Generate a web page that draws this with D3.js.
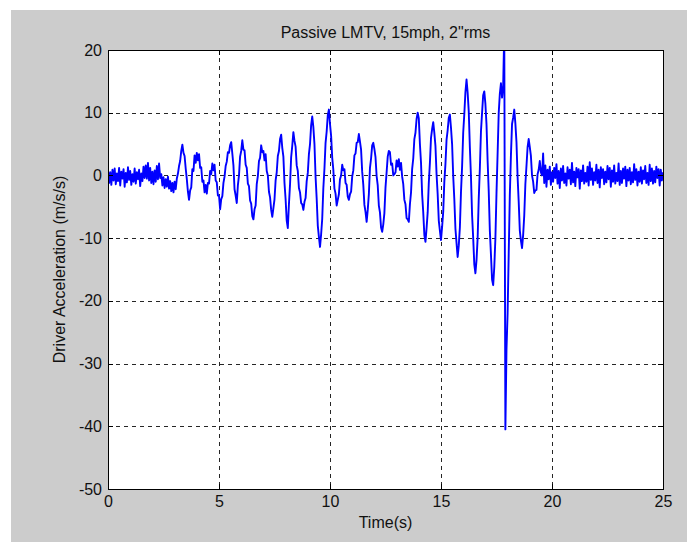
<!DOCTYPE html>
<html>
<head>
<meta charset="utf-8">
<script src="https://cdn.jsdelivr.net/npm/d3@7"></script>
<style>
  html, body { margin: 0; padding: 0; background: #ffffff; }
  svg { display: block; }
  text { font-family: "Liberation Sans", Arial, Helvetica, sans-serif; }
</style>
</head>
<body>
<div id="chart"></div>
<script>
// ---- data ----
const titleText = 'Passive LMTV, 15mph, 2"rms';
const xLabelText = "Time(s)";
const yLabelText = "Driver Acceleration (m/s/s)";
const xDomain = [0, 25];
const yDomain = [-50, 20];
const xTicks = [0, 5, 10, 15, 20, 25];
const yTicks = [-50, -40, -30, -20, -10, 0, 10, 20];
const sampleStep = 0.05; // seconds between samples, starting at t = 0
// one row per second (20 samples each), last value at t = 25 s
const accel = [
  0.8,-1.2,0.5,-1.5,0.9,-0.8,1.1,-1.4,0.3,-0.9,1.2,-1.6,0.6,-0.5,1.0,-1.8,0.4,-1.1,1.3,-0.7,
  0.7,-1.5,0.2,-1.0,1.1,-1.3,0.5,-0.6,0.9,-1.7,0.3,-0.9,1.4,-0.4,1.6,-0.5,2.0,-0.8,1.2,-1.2,
  0.6,-1.4,0.8,-1.0,1.5,-0.6,1.9,-0.4,0.2,-1.6,-0.3,-2.0,-0.6,-1.8,-0.2,-2.1,-0.9,-2.5,-1.2,-2.7,
  -1.0,-2.2,-0.5,0.3,1.5,2.3,3.9,4.9,3.6,3.1,1.1,-0.6,-2.6,-3.9,-2.4,-1.9,1.0,0.7,3.2,2.0,
  3.6,2.4,3.4,1.2,1.3,-1.0,-0.8,-2.7,-1.5,-2.9,-1.2,-1.3,0.7,0.2,1.9,0.8,1.7,-0.8,-1.1,-3.2,
  -3.2,-5.4,-3.8,-3.3,-1.2,-0.2,1.5,2.2,3.7,3.6,4.8,5.3,3.5,1.6,-2.2,-3.2,-4.4,-1.6,0.0,3.0,
  3.9,5.6,4.1,4.0,1.7,1.2,-1.3,-1.7,-4.0,-4.5,-6.5,-7.0,-5.4,-4.8,-1.4,-0.1,2.3,2.8,4.8,3.7,
  3.9,2.4,3.4,0.7,0.0,-2.6,-3.5,-5.5,-6.6,-5.2,-3.8,-0.8,0.5,3.1,3.9,5.8,6.5,4.4,3.0,-1.2,
  -3.8,-7.2,-8.4,-4.6,-1.4,2.9,4.7,6.9,5.5,4.6,1.6,0.7,-2.0,-2.7,-4.4,-4.6,-5.5,-4.2,-3.6,-0.9,
  0.4,3.4,5.0,8.0,9.4,7.7,5.0,-0.2,-3.7,-8.0,-9.8,-11.4,-9.4,-6.9,-2.0,1.1,5.2,7.0,9.6,10.5,
  8.2,6.3,2.8,0.9,-2.1,-2.9,-4.8,-3.9,-3.0,-0.6,0.0,1.7,0.8,1.0,-1.2,-1.5,-3.4,-3.9,-3.0,-2.6,
  -0.2,0.8,3.2,3.5,5.2,5.3,6.6,5.4,4.1,0.6,-1.5,-4.7,-5.8,-7.4,-5.5,-3.0,1.2,2.7,4.8,5.2,
  4.2,2.9,-0.1,-1.6,-4.8,-5.9,-8.3,-9.0,-7.8,-6.0,-1.9,0.5,3.0,3.9,3.7,1.7,1.9,0.0,0.2,0.5,
  2.4,1.4,2.6,0.9,2.0,-0.2,-1.4,-3.9,-4.6,-6.8,-7.0,-7.4,-4.6,-2.7,1.0,2.7,5.8,6.8,9.0,10.0,
  9.1,5.0,2.0,-3.0,-5.9,-9.5,-10.6,-8.4,-5.9,-1.2,2.0,6.0,7.4,8.5,6.8,4.7,0.2,-3.0,-7.2,-8.8,
  -10.3,-8.2,-5.8,-1.0,1.8,5.7,7.2,9.2,9.7,7.6,5.0,-0.1,-3.8,-8.5,-10.8,-13.0,-11.2,-8.3,-2.7,1.4,
  6.8,9.8,13.3,15.3,13.2,10.2,4.5,-0.2,-6.3,-10.0,-14.2,-15.6,-13.5,-10.0,-3.7,1.1,7.0,10.0,12.8,13.4,
  11.4,8.1,2.3,-2.5,-8.8,-12.6,-16.6,-17.5,-14.6,-10.1,-2.8,3.5,10.0,13.0,14.7,12.4,14.2,23.0,-40.5,-27.7,
  -22.0,-12.5,-3.1,3.2,8.2,9.2,10.5,8.3,5.3,-0.2,-4.2,-8.8,-10.4,-11.6,-9.5,-6.4,-1.4,1.5,4.5,5.8,
  4.5,3.1,0.0,-1.0,-2.8,-2.4,-2.3,0.2,0.9,2.3,0.5,0.0,3.5,-1.2,1.6,-1.8,0.9,-0.6,1.4,-1.5,
  0.5,-1.0,1.2,-0.4,1.8,-1.3,0.7,-2.0,1.1,-0.8,1.5,-1.2,0.3,-1.6,1.3,-0.5,0.9,-1.4,2.0,-1.1,
  0.6,-1.7,1.2,-0.3,1.0,-2.1,0.8,-0.9,1.6,-1.3,0.4,-1.0,1.4,-1.6,2.1,-0.7,1.1,-1.5,0.5,-0.8,
  1.7,-1.2,0.9,-1.9,1.3,-0.4,1.0,-1.4,0.6,-1.1,1.5,-0.6,1.2,-1.8,0.8,-1.0,1.6,-1.3,0.4,-0.9,
  1.9,-1.5,0.7,-1.2,1.1,-0.5,1.4,-1.7,0.9,-0.8,1.2,-1.4,0.5,-1.1,1.8,-0.7,1.0,-1.6,0.6,-1.0,
  1.3,-1.3,0.8,-0.6,1.5,-1.2,0.4,-1.5,1.7,-0.9,1.1,-1.3,0.7,-1.1,1.4,-0.4,1.0,-1.6,0.9,-0.8,
  0.5
];

// ---- layout ----
const W = 687, H = 542;
const plot = { left: 108, right: 663, top: 50, bottom: 489 };

const svg = d3.select("#chart").append("svg")
  .attr("width", W).attr("height", H);

svg.append("rect").attr("x", 0).attr("y", 0).attr("width", W).attr("height", H).attr("fill", "#ffffff");
svg.append("rect").attr("x", 11).attr("y", 10).attr("width", W - 11).attr("height", H - 10).attr("fill", "#cccccc");

const x = d3.scaleLinear().domain(xDomain).range([plot.left, plot.right]);
const y = d3.scaleLinear().domain(yDomain).range([plot.bottom, plot.top]);

// plot background
svg.append("rect")
  .attr("x", plot.left).attr("y", plot.top)
  .attr("width", plot.right - plot.left).attr("height", plot.bottom - plot.top)
  .attr("fill", "#ffffff");

// grid
const grid = svg.append("g").attr("stroke", "#262626").attr("stroke-width", 1)
  .attr("stroke-dasharray", "4,4").attr("shape-rendering", "crispEdges");
grid.selectAll("line.gx").data(xTicks.filter(d => d > xDomain[0] && d < xDomain[1]))
  .join("line").attr("class", "gx")
  .attr("x1", d => Math.round(x(d)) + 0.5).attr("x2", d => Math.round(x(d)) + 0.5)
  .attr("y1", plot.top).attr("y2", plot.bottom);
grid.selectAll("line.gy").data(yTicks.filter(d => d > yDomain[0] && d < yDomain[1]))
  .join("line").attr("class", "gy")
  .attr("y1", d => Math.round(y(d)) + 0.5).attr("y2", d => Math.round(y(d)) + 0.5)
  .attr("x1", plot.left).attr("x2", plot.right);

// data line
svg.append("clipPath").attr("id", "clip").append("rect")
  .attr("x", plot.left).attr("y", plot.top)
  .attr("width", plot.right - plot.left).attr("height", plot.bottom - plot.top);

const line = d3.line()
  .x((d, i) => x(i * sampleStep))
  .y(d => y(d));

svg.append("path")
  .datum(accel)
  .attr("clip-path", "url(#clip)")
  .attr("fill", "none")
  .attr("stroke", "#0000ff")
  .attr("stroke-width", 1.9)
  .attr("stroke-linejoin", "round")
  .attr("d", line);

// axes
const fmt = d => String(d);
function styleAxis(g) {
  g.selectAll("path.domain").attr("stroke", "#000").attr("stroke-width", 1);
  g.selectAll(".tick line").attr("stroke", "#000");
  g.selectAll("text").attr("fill", "#111").attr("font-size", 16)
    .attr("font-family", '"Liberation Sans", Arial, sans-serif');
  g.attr("shape-rendering", "crispEdges");
}

svg.append("g").attr("transform", `translate(0,${plot.bottom})`)
  .call(d3.axisBottom(x).tickValues(xTicks).tickSize(-5).tickSizeOuter(0).tickPadding(7).tickFormat(fmt))
  .call(styleAxis);
svg.append("g").attr("transform", `translate(0,${plot.top})`)
  .call(d3.axisTop(x).tickValues(xTicks).tickSize(-5).tickSizeOuter(0).tickFormat(""))
  .call(styleAxis);
svg.append("g").attr("transform", `translate(${plot.left},0)`)
  .call(d3.axisLeft(y).tickValues(yTicks).tickSize(-5).tickSizeOuter(0).tickPadding(6).tickFormat(fmt))
  .call(styleAxis);
svg.append("g").attr("transform", `translate(${plot.right},0)`)
  .call(d3.axisRight(y).tickValues(yTicks).tickSize(-5).tickSizeOuter(0).tickFormat(""))
  .call(styleAxis);

// labels
svg.append("text")
  .attr("x", (plot.left + plot.right) / 2).attr("y", 38)
  .attr("text-anchor", "middle").attr("font-size", 16).attr("fill", "#111")
  .text(titleText);

svg.append("text")
  .attr("x", (plot.left + plot.right) / 2).attr("y", 528)
  .attr("text-anchor", "middle").attr("font-size", 16).attr("fill", "#111")
  .text(xLabelText);

svg.append("text")
  .attr("transform", `translate(65,${(plot.top + plot.bottom) / 2}) rotate(-90)`)
  .attr("text-anchor", "middle").attr("font-size", 16).attr("fill", "#111")
  .text(yLabelText);
</script>
</body>
</html>
